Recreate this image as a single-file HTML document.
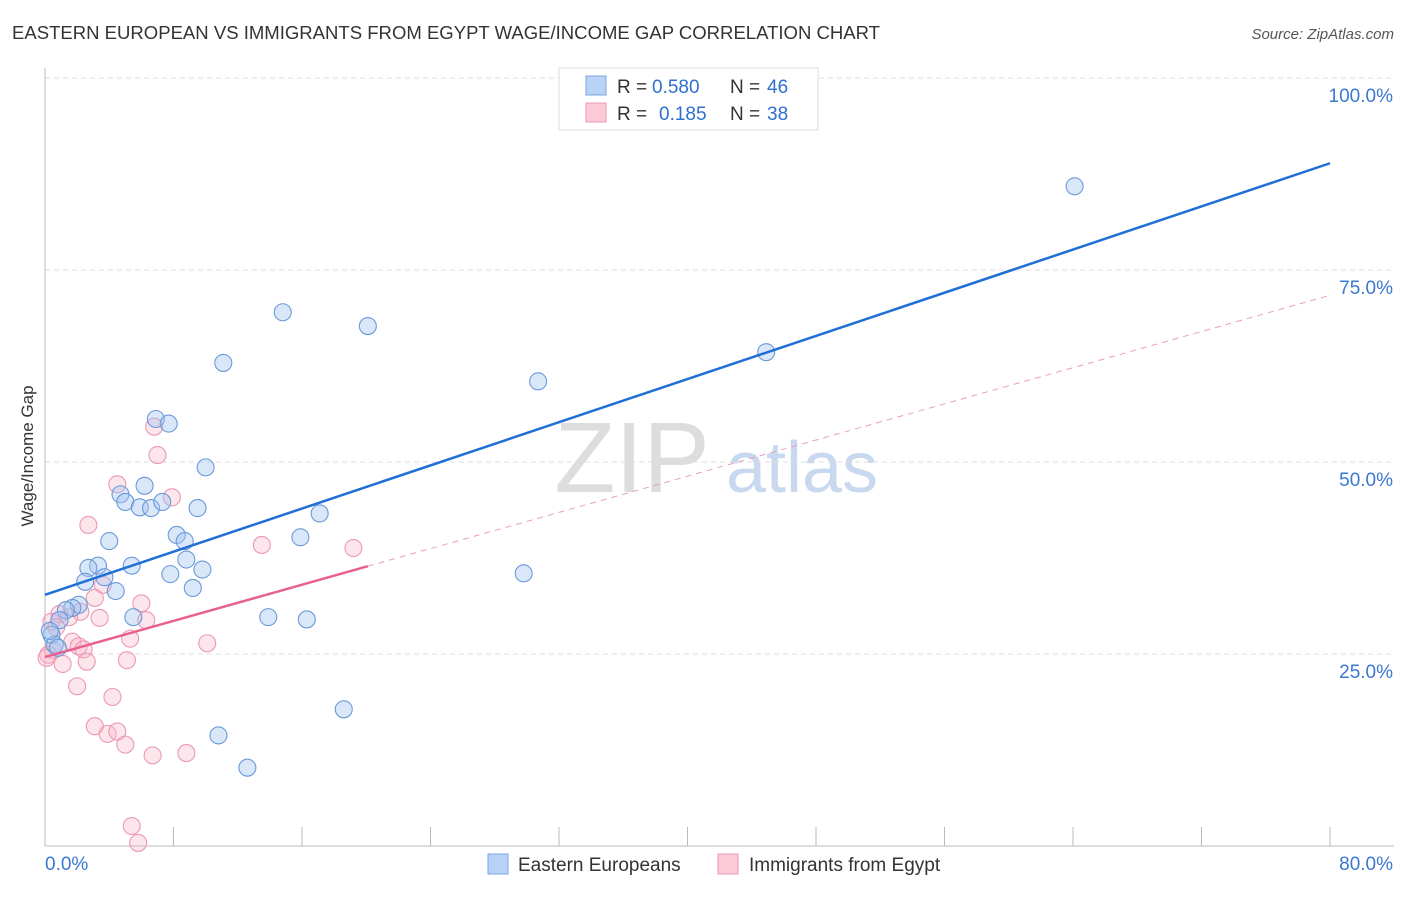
<!DOCTYPE html>
<html><head><meta charset="utf-8"><style>
body{margin:0;background:#fff;font-family:"Liberation Sans",sans-serif}
svg text{font-family:"Liberation Sans",sans-serif}
</style></head><body>
<svg id="c" width="1406" height="892">
<text x="12" y="39" font-size="18" fill="#333" textLength="868" lengthAdjust="spacingAndGlyphs">EASTERN EUROPEAN VS IMMIGRANTS FROM EGYPT WAGE/INCOME GAP CORRELATION CHART</text>
<text x="1394" y="39" font-size="15" fill="#555" font-style="italic" text-anchor="end">Source: ZipAtlas.com</text>
<text x="33" y="456" font-size="17" fill="#333" text-anchor="middle" transform="rotate(-90 33 456)">Wage/Income Gap</text>
<g><text x="632" y="492" font-size="100" fill="#ddd" font-family="Liberation Serif" text-anchor="middle">ZIP</text><text x="802" y="492" font-size="72" fill="#c8d8ee" text-anchor="middle">atlas</text></g>
<g id="grid"></g><g id="marks"></g>
<g>
<rect x="559" y="68" width="259" height="62" fill="#fff" stroke="#ddd"/>
<rect x="586" y="76" width="20" height="19" fill="#b8d3f5" stroke="#7aa6e0"/>
<rect x="586" y="103" width="20" height="19" fill="#fbc9d7" stroke="#ee9ab2"/>
<text y="93" font-size="19" fill="#333"><tspan x="617">R =</tspan><tspan x="652" fill="#2f6fd0">0.580</tspan><tspan x="730">N =</tspan><tspan x="767" fill="#2f6fd0">46</tspan></text>
<text y="120" font-size="19" fill="#333"><tspan x="617">R =</tspan><tspan x="659" fill="#2f6fd0">0.185</tspan><tspan x="730">N =</tspan><tspan x="767" fill="#2f6fd0">38</tspan></text>
</g>
<g>
<rect x="488" y="854" width="20" height="20" fill="#b8d3f5" stroke="#7aa6e0"/>
<text x="518" y="871" font-size="19" fill="#333">Eastern Europeans</text>
<rect x="718" y="854" width="20" height="20" fill="#fbc9d7" stroke="#ee9ab2"/>
<text x="749" y="871" font-size="19" fill="#333">Immigrants from Egypt</text>
</g>
</svg>
<script>
const blueX=[64.1,14.8,20.1,44.9,11.1,30.7,6.9,7.7,10.0,6.2,4.7,5.0,5.9,6.6,7.3,9.5,17.1,4.0,8.2,8.7,15.9,3.3,2.7,5.4,3.7,8.8,7.8,9.8,2.5,4.4,9.2,2.1,1.7,1.3,13.9,16.3,5.5,0.9,29.8,18.6,10.8,12.6,0.4,0.6,0.8,0.3];
const blueY=[85.9,69.5,67.7,64.3,62.9,60.5,55.6,55.0,49.3,46.9,45.8,44.8,44.1,44.0,44.8,44.0,43.3,39.7,40.5,39.7,40.2,36.5,36.2,36.5,35.0,37.3,35.4,36.0,34.4,33.2,33.6,31.4,31.0,30.7,29.8,29.5,29.8,29.4,35.5,17.8,14.4,10.2,27.5,26.2,25.8,28.0];
const pinkX=[6.8,7.0,2.7,4.5,7.9,13.5,19.2,3.6,3.1,6.0,2.2,0.9,1.5,3.4,6.3,0.4,5.3,1.7,2.1,2.4,10.1,0.5,0.2,0.1,1.1,2.6,5.1,2.0,4.2,3.1,3.9,4.5,5.0,6.7,8.8,5.4,5.8,0.7];
const pinkY=[54.6,50.9,41.8,47.1,45.4,39.2,38.8,34.0,32.3,31.6,30.5,30.2,29.8,29.7,29.4,29.2,27.0,26.6,26.0,25.6,26.4,25.5,24.9,24.5,23.7,24.0,24.2,20.8,19.4,15.6,14.6,14.9,13.2,11.8,12.1,2.6,0.4,28.5];
const blueTrend=[32.7,88.9];
const pinkTrend=[24.6,71.7];
const yTicks=[25,50,75,100];
const yTickLabels=["25.0%","50.0%","75.0%","100.0%"];
const xTicks=[0,8,16,24,32,40,48,56,64,72,80];
const NS="http://www.w3.org/2000/svg";
const X=v=>45+v*(1285/80), Y=v=>846-v*7.68;
function mk(t,a,p){const e=document.createElementNS(NS,t);for(const k in a)e.setAttribute(k,a[k]);p.appendChild(e);return e;}
const g=document.getElementById('grid'),m=document.getElementById('marks');
yTicks.forEach((t,i)=>{
 const l=mk('line',{x1:45,x2:1394,y1:Y(t),y2:Y(t),stroke:'#ddd','stroke-dasharray':'5,4'},g);
 
 
 const tx=mk('text',{x:1393,y:Y(t)+24,'font-size':19,fill:'#3a78d4','text-anchor':'end'},g);
 tx.textContent=yTickLabels[i];
 
 
});
const ax=mk('line',{x1:45,x2:1394,y1:846,y2:846,stroke:'#bbb'},g);


const ay=mk('line',{x1:45,x2:45,y1:68,y2:846,stroke:'#bbb'},g);


xTicks.forEach(t=>{const l=mk('line',{x1:X(t),x2:X(t),y1:827,y2:846,stroke:'#bbb'},g);
 
 });
const x0=mk('text',{x:45,y:870,'font-size':19,fill:'#3a78d4'},g);x0.textContent="0.0%";


const x1=mk('text',{x:1393,y:870,'font-size':19,fill:'#3a78d4','text-anchor':'end'},g);x1.textContent="80.0%";


pinkX.forEach((v,i)=>{const c=mk('circle',{cx:X(v),cy:Y(pinkY[i]),r:8.5,fill:'rgba(248,180,200,0.35)',stroke:'#ec98b2','stroke-width':1.1},m);
 
 });
blueX.forEach((v,i)=>{const c=mk('circle',{cx:X(v),cy:Y(blueY[i]),r:8.5,fill:'rgba(160,196,240,0.4)',stroke:'#6b9ad9','stroke-width':1.1},m);
 
 });
const pe=v=>pinkTrend[0]+(pinkTrend[1]-pinkTrend[0])*v/80, be=v=>blueTrend[0]+(blueTrend[1]-blueTrend[0])*v/80;
const pd=mk('line',{x1:X(20.1),y1:Y(pe(20.1)),x2:X(80),y2:Y(pe(80)),stroke:'#e8a0b8','stroke-width':1,'stroke-dasharray':'6,5'},m);


const ps=mk('line',{x1:X(0),y1:Y(pe(0)),x2:X(20.1),y2:Y(pe(20.1)),stroke:'#e8608e','stroke-width':2.5},m);


const bl=mk('line',{x1:X(0),y1:Y(be(0)),x2:X(80),y2:Y(be(80)),stroke:'#1f6fd6','stroke-width':2.5},m);


</script>
</body></html>
